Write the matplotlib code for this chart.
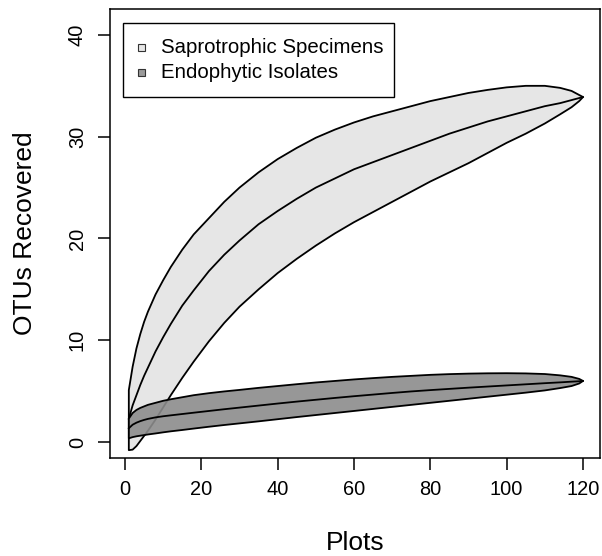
import numpy as np
import matplotlib
matplotlib.use("Agg")
import matplotlib.pyplot as plt
from matplotlib.patches import Rectangle

plt.rcParams['font.family'] = ['Liberation Sans', 'DejaVu Sans']

# ---- data ----
plots = [1, 2, 3, 4, 5, 6, 8, 10, 12, 15, 18, 22, 26, 30, 35, 40, 45, 50, 55, 60,
         65, 70, 75, 80, 85, 90, 95, 100, 105, 110, 114, 117, 119, 120]

sapro_mean = [2.3, 3.6, 4.6, 5.6, 6.5, 7.3, 8.9, 10.3, 11.6, 13.4, 14.9, 16.8, 18.4, 19.8, 21.4, 22.7, 23.9, 25.0, 25.9, 26.8,
              27.5, 28.2, 28.9, 29.6, 30.3, 30.9, 31.5, 32.0, 32.5, 33.0, 33.3, 33.6, 33.8, 33.9]
sapro_upper = [5.1, 7.4, 9.2, 10.6, 11.8, 12.8, 14.5, 15.9, 17.2, 18.9, 20.4, 22.0, 23.6, 25.0, 26.5, 27.8, 28.9, 29.9, 30.7, 31.4,
               32.0, 32.5, 33.0, 33.5, 33.9, 34.3, 34.6, 34.85, 35.0, 35.0, 34.8, 34.5, 34.1, 33.9]
sapro_lower = [-0.8, -0.75, -0.4, 0.1, 0.6, 1.1, 2.2, 3.4, 4.6, 6.3, 7.9, 9.9, 11.7, 13.3, 15.0, 16.6, 18.0, 19.3, 20.5, 21.6,
               22.6, 23.6, 24.6, 25.6, 26.5, 27.4, 28.4, 29.4, 30.3, 31.3, 32.2, 32.9, 33.5, 33.9]

endo_mean = [1.35, 1.7, 1.9, 2.05, 2.17, 2.27, 2.42, 2.53, 2.62, 2.75, 2.88, 3.05, 3.22, 3.38, 3.58, 3.78, 3.97, 4.15, 4.33, 4.5,
             4.66, 4.82, 4.97, 5.1, 5.22, 5.34, 5.45, 5.56, 5.67, 5.78, 5.86, 5.93, 5.97, 6.0]
endo_upper = [2.3, 2.85, 3.15, 3.35, 3.5, 3.65, 3.85, 4.05, 4.2, 4.4, 4.6, 4.8, 4.97, 5.12, 5.32, 5.5, 5.68, 5.85, 6.0, 6.15,
              6.28, 6.4, 6.5, 6.6, 6.67, 6.72, 6.75, 6.76, 6.74, 6.68, 6.55, 6.4, 6.2, 6.0]
endo_lower = [0.36, 0.48, 0.56, 0.62, 0.68, 0.74, 0.84, 0.95, 1.05, 1.18, 1.32, 1.5, 1.67, 1.83, 2.03, 2.24, 2.45, 2.65, 2.85, 3.05,
              3.25, 3.45, 3.65, 3.85, 4.05, 4.25, 4.45, 4.65, 4.85, 5.07, 5.3, 5.5, 5.75, 6.0]

series_labels = ["Saprotrophic Specimens", "Endophytic Isolates"]
x_ticks = [0, 20, 40, 60, 80, 100, 120]
y_ticks = [0, 10, 20, 30, 40]

# ---- figure ----
W, H = 602, 556
fig = plt.figure(figsize=(W / 100, H / 100), dpi=100)
L, R, T, B = 110, 600, 9, 458
ax = fig.add_axes([L / W, (H - B) / H, (R - L) / W, (B - T) / H])

sapro_fill = '#E6E6E6'
endo_fill = (0.55, 0.55, 0.55, 0.9)
lw = 1.3

x = np.array(plots, dtype=float)

def band(upper, lower, mean, fc, z):
    px = np.concatenate([x, x[::-1]])
    py = np.concatenate([np.array(upper), np.array(lower)[::-1]])
    ax.fill(px, py, facecolor=fc, edgecolor='black', linewidth=lw, zorder=z, joinstyle='round')
    ax.plot(x, mean, color='black', linewidth=lw, zorder=z + 0.5, solid_joinstyle='round')

band(sapro_upper, sapro_lower, sapro_mean, sapro_fill, 2)
band(endo_upper, endo_lower, endo_mean, endo_fill, 3)

ax.set_xlim(-3.93, 124.45)
ax.set_ylim(-1.572, 42.55)
ax.set_xticks(x_ticks)
ax.set_yticks(y_ticks)
ax.set_xticklabels([str(v) for v in x_ticks])
ax.set_yticklabels([str(v) for v in y_ticks], rotation=90, va='center')

for s in ax.spines.values():
    s.set_linewidth(1.1)
ax.tick_params(axis='both', direction='out', length=8.6, width=1.1, labelsize=14.4, colors='black')
ax.tick_params(axis='x', pad=7)
ax.tick_params(axis='y', pad=8)

ax.set_xlabel('Plots', fontsize=19, va='center')
ax.xaxis.set_label_coords(0.5, -(543 - B) / (B - T))
ax.set_ylabel('OTUs Recovered', fontsize=19, va='center', ha='center')
ax.yaxis.set_label_coords(-(L - 25) / (R - L), 0.5)

# ---- legend (R style) ----
def fx(px):
    return (px - L) / (R - L)

def fy(py):
    return (B - py) / (B - T)

ax.add_patch(Rectangle((fx(122.7), fy(96.7)), fx(394) - fx(122.7), fy(23.3) - fy(96.7),
                       transform=ax.transAxes, facecolor='white', edgecolor='black',
                       linewidth=1.0, zorder=10, clip_on=False))
rows_y = [47.3, 72.7]
sq_cols = [sapro_fill, '#9A9A9A']
for lab, ry, c in zip(series_labels, rows_y, sq_cols):
    ax.add_patch(Rectangle((fx(137.7), fy(ry + 3.4)), fx(144.5) - fx(137.7), fy(ry - 3.4) - fy(ry + 3.4),
                           transform=ax.transAxes, facecolor=c, edgecolor='#333333',
                           linewidth=0.8, zorder=11, clip_on=False))
    ax.text(fx(161), fy(ry), lab, transform=ax.transAxes, fontsize=14.7,
            ha='left', va='center', zorder=12)

fig.savefig('out.png', dpi=100)
